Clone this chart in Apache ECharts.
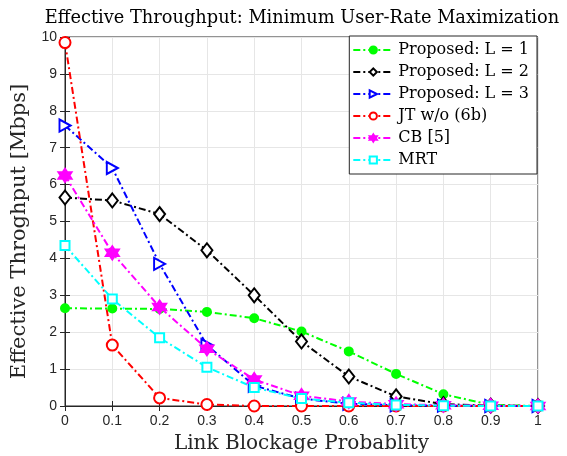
<!DOCTYPE html>
<html><head><meta charset="utf-8">
<script src="https://cdn.jsdelivr.net/npm/echarts@6/dist/echarts.min.js"></script>
<style>html,body{margin:0;padding:0;background:#fff}#c{width:567px;height:456px}</style>
</head><body><div id="c"></div>
<script>
var xValues = [0, 0.1, 0.2, 0.3, 0.4, 0.5, 0.6, 0.7, 0.8, 0.9, 1];
var propL1 = [2.65, 2.64, 2.63, 2.55, 2.38, 2.02, 1.48, 0.87, 0.32, 0.03, 0.0];
var propL2 = [5.65, 5.57, 5.20, 4.22, 3.00, 1.75, 0.80, 0.26, 0.05, 0.01, 0.0];
var propL3 = [7.60, 6.45, 3.85, 1.65, 0.55, 0.20, 0.06, 0.02, 0.01, 0.0, 0.0];
var jtWo   = [9.85, 1.65, 0.22, 0.04, 0.0, 0.0, 0.0, 0.0, 0.0, 0.0, 0.0];
var cb     = [6.25, 4.15, 2.68, 1.55, 0.72, 0.28, 0.12, 0.05, 0.02, 0.01, 0.0];
var mrt    = [4.35, 2.90, 1.85, 1.05, 0.50, 0.20, 0.09, 0.03, 0.01, 0.0, 0.0];
var seriesNames = ['Proposed: L = 1', 'Proposed: L = 2', 'Proposed: L = 3', 'JT w/o (6b)', 'CB [5]', 'MRT'];
var titleText = 'Effective Throughput: Minimum User-Rate Maximization';
var xName = 'Link Blockage Probablity';
var yName = 'Effective Throghput [Mbps]';

function pairs(arr){ return xValues.map(function(x,i){ return [x, arr[i]]; }); }
var dash = [7, 3, 2, 3];
var star = 'path://M0,-10L2.9,-5L8.66,-5L5.8,0L8.66,5L2.9,5L0,10L-2.9,5L-8.66,5L-5.8,0L-8.66,-5L-2.9,-5Z';
var styles = [
  {color:'#00ff00', symbol:'circle', size:8, fill:'#00ff00'},
  {color:'#000000', symbol:'diamond', size:[11,14], fill:'#ffffff'},
  {color:'#0000ff', symbol:'triangle', size:[12,11], fill:'#ffffff', rotate:-90},
  {color:'#ff0000', symbol:'circle', size:11, fill:'#ffffff'},
  {color:'#ff00ff', symbol:star, size:13, fill:'#ff00ff'},
  {color:'#00ffff', symbol:'rect', size:9, fill:'#ffffff'}
];
var datas = [propL1, propL2, propL3, jtWo, cb, mrt];
var series = datas.map(function(d, i){
  var s = styles[i];
  return {
    name: seriesNames[i], type:'line', data: pairs(d),
    symbol: s.symbol, symbolSize: s.size, symbolRotate: s.rotate || 0,
    showAllSymbol: true,
    lineStyle: {color: s.color, width: 2, type: dash},
    itemStyle: {color: s.fill, borderColor: s.color, borderWidth: 2},
    emphasis: {disabled: true},
    animation: false
  };
});
var axisColor = '#262626';
var chart = echarts.init(document.getElementById('c'));
chart.setOption({
  backgroundColor:'#ffffff',
  title: {text: titleText, left: 297, textAlign: 'center', top: 4,
    textStyle:{fontFamily:'DejaVu Serif', fontWeight:'normal', fontSize:17.8, color:'#000'}},
  legend: {right: 30, top: 36, orient:'vertical', itemWidth: 40, itemHeight: 9, itemGap: 4,
    backgroundColor:'#fff', borderColor: axisColor, borderWidth: 1, padding:[5,8,5,3],
    textStyle:{fontFamily:'DejaVu Serif', fontSize:16, lineHeight:18, color:'#000'},
    data: seriesNames},
  grid: {left: 65, right: 29, top: 37, bottom: 50, show: true, borderColor: axisColor, borderWidth: 1,
    outerBoundsMode: 'none', containLabel: false},
  xAxis: [{
    type:'value', min:0, max:1, interval:0.1,
    name: xName, nameLocation:'middle', nameGap: 28,
    nameTextStyle:{fontFamily:'DejaVu Serif', fontSize:20, color:'#262626'},
    axisLine:{show:true, onZero:false, lineStyle:{color:axisColor}},
    axisTick:{show:true, inside:true, length:5, lineStyle:{color:axisColor}},
    axisLabel:{fontFamily:'Liberation Sans', fontSize:14, color:axisColor, margin:8,
      formatter:function(v){ return String(Math.round(v*10)/10); }},
    splitLine:{show:true, lineStyle:{color:'#e6e6e6'}}
  },{
    type:'value', min:0, max:1, interval:0.1, position:'top',
    axisLine:{show:true, lineStyle:{color:axisColor}},
    axisTick:{show:true, inside:true, length:5, lineStyle:{color:axisColor}},
    axisLabel:{show:false}, splitLine:{show:false}
  }],
  yAxis: [{
    type:'value', min:0, max:10, interval:1,
    name: yName, nameLocation:'middle', nameGap: 30, nameRotate: 90,
    nameTextStyle:{fontFamily:'DejaVu Serif', fontSize:21, color:'#262626', padding:[0,20,0,0]},
    axisLine:{show:true, lineStyle:{color:axisColor}},
    axisTick:{show:true, inside:true, length:5, lineStyle:{color:axisColor}},
    axisLabel:{fontFamily:'Liberation Sans', fontSize:14, color:axisColor, margin:8},
    splitLine:{show:true, lineStyle:{color:'#e6e6e6'}}
  },{
    type:'value', min:0, max:10, interval:1, position:'right',
    axisLine:{show:true, lineStyle:{color:axisColor}},
    axisTick:{show:true, inside:true, length:5, lineStyle:{color:axisColor}},
    axisLabel:{show:false}, splitLine:{show:false}
  }],
  series: series
});
</script></body></html>
